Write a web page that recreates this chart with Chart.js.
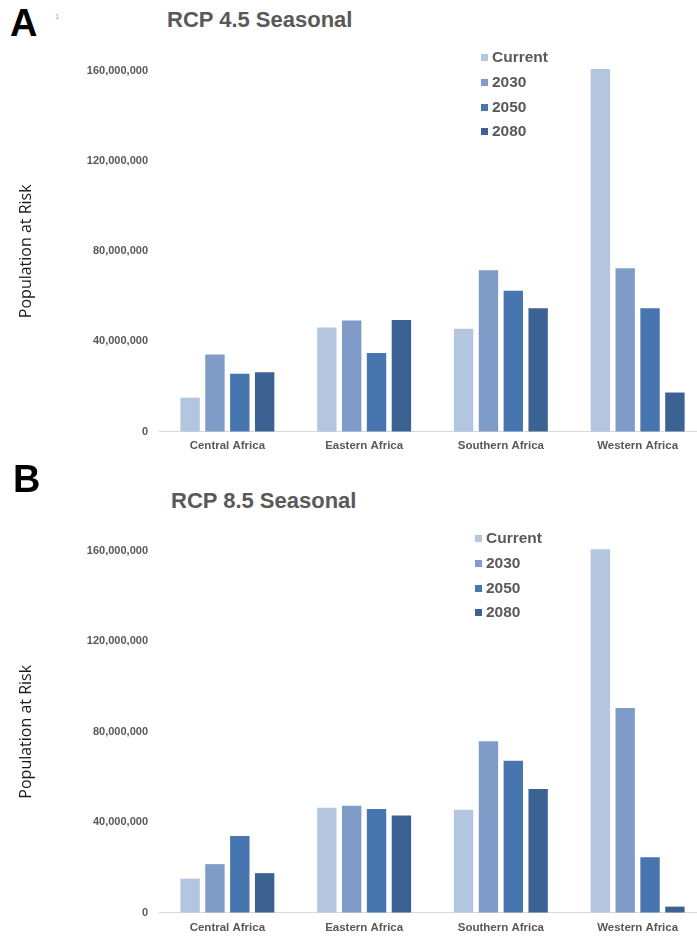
<!DOCTYPE html>
<html>
<head>
<meta charset="utf-8">
<script src="https://cdn.jsdelivr.net/npm/chart.js@4.4.1/dist/chart.umd.min.js"></script>
<style>
  body { margin: 0; width: 697px; height: 936px; overflow: hidden; position: relative; background: #fff; font-family: "Liberation Sans", Arial, sans-serif; }
  .panel { position: absolute; left: 0; width: 706px; height: 468px; }
  .letter { position: absolute; font-weight: bold; font-size: 38px; color: #000; line-height: 1; }
  .title { position: absolute; font-weight: bold; font-size: 22px; color: #595959; line-height: 1; white-space: nowrap; }
  .legend { position: absolute; }
  .legend div { height: 24.8px; line-height: 24.8px; font-weight: bold; font-size: 15.5px; color: #595959; white-space: nowrap; }
  .legend span { display: inline-block; width: 7px; height: 7px; margin-right: 4px; vertical-align: 1px; }
</style>
</head>
<body>

<div class="letter" style="left:10px; top:4px">A</div>
<div style="position:absolute; left:55px; top:12px; font-size:8px; color:#aaa">1</div>
<div class="title" style="left:167px; top:9px">RCP 4.5 Seasonal</div>
<div class="panel" style="top:0"><canvas id="chart45"></canvas></div>
<div class="legend" id="legend45" style="left:481px; top:45px"></div>

<div class="letter" style="left:13px; top:460px">B</div>
<div class="title" style="left:171px; top:490px">RCP 8.5 Seasonal</div>
<div class="panel" style="top:468px"><canvas id="chart85"></canvas></div>
<div class="legend" id="legend85" style="left:475px; top:526px"></div>

<script>
const regions = ["Central Africa", "Eastern Africa", "Southern Africa", "Western Africa"];
const seriesNames = ["Current", "2030", "2050", "2080"];
const seriesColors = ["#b4c5e0", "#7f9cc8", "#4775b0", "#3b6293"];
const yTicks = [0, 40000000, 80000000, 120000000, 160000000];

// RCP 4.5
const current45 = [15000000, 46200000, 45600000, 160900000];
const y2030_45 = [34200000, 49300000, 71600000, 72400000];
const y2050_45 = [25600000, 34800000, 62500000, 54700000];
const y2080_45 = [26300000, 49500000, 54700000, 17300000];

// RCP 8.5
const current85 = [15000000, 46400000, 45500000, 160800000];
const y2030_85 = [21400000, 47200000, 75800000, 90500000];
const y2050_85 = [33900000, 45800000, 67200000, 24400000];
const y2080_85 = [17400000, 42900000, 54700000, 2600000];

const makeChart = (id, legendId, series, areaTop, axisHeight, labelPad) => {

  const datasets = series.map((data, i) => {
    return {
      label: seriesNames[i],
      data: data,
      backgroundColor: seriesColors[i],
      borderWidth: 0,
      categoryPercentage: 0.727,
      barPercentage: 0.78,
      clip: false,
    };
  });

  const config = {
    type: "bar",
    data: { labels: regions, datasets: datasets },
    options: {
      responsive: true,
      maintainAspectRatio: false,
      animation: false,
      layout: { padding: { top: areaTop, left: 0, right: 0, bottom: 0 } },
      plugins: {
        legend: { display: false },
        tooltip: { enabled: false },
      },
      scales: {
        x: {
          grid: { display: false, drawTicks: false },
          border: { display: true, color: "#d9d9d9", width: 1 },
          ticks: {
            color: "#595959",
            padding: labelPad,
            font: { family: "Liberation Sans", size: 11.5, weight: "bold" },
          },
          afterFit: (scale) => { scale.height = axisHeight; },
        },
        y: {
          min: 0,
          max: yTicks[yTicks.length - 1],
          afterBuildTicks: (scale) => { scale.ticks = yTicks.map((v) => ({ value: v })); },
          grid: { display: false, drawTicks: false },
          border: { display: false },
          ticks: {
            color: "#595959",
            padding: 11,
            font: { family: "Liberation Sans", size: 11, weight: "bold" },
            callback: (v) => v.toLocaleString("en-US"),
          },
          title: {
            display: true,
            text: "Population at Risk",
            color: "#1a1a1a",
            padding: { top: 17, bottom: 0 },
            font: { family: "Open Sans", size: 16 },
          },
          afterFit: (scale) => { scale.width = 159; },
        },
      },
    },
  };

  const chart = new Chart(document.getElementById(id), config);

  // legend built from the same datasets
  const box = document.getElementById(legendId);
  chart.data.datasets.forEach((ds) => {
    const row = document.createElement("div");
    row.innerHTML = '<span style="background:' + ds.backgroundColor + '"></span>' + ds.label;
    box.appendChild(row);
  });

  return chart;
};

makeChart("chart45", "legend45", [current45, y2030_45, y2050_45, y2080_45], 71, 36.5, 7);
makeChart("chart85", "legend85", [current85, y2030_85, y2050_85, y2080_85], 83, 23.5, 8);
</script>
</body>
</html>
